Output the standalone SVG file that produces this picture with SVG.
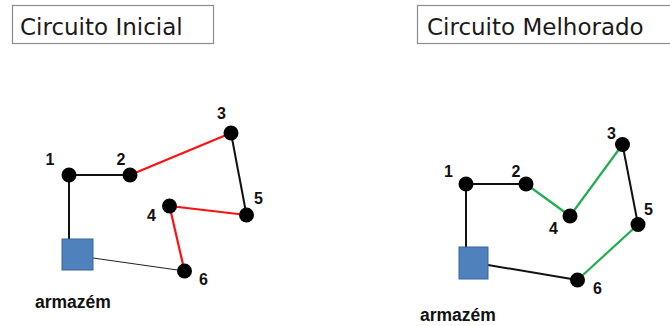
<svg xmlns="http://www.w3.org/2000/svg" width="670" height="326" viewBox="0 0 670 326">
  <style>
    .title { font-family: "DejaVu Sans", Verdana, sans-serif; font-size: 23px; fill: #1a1a1a; }
    .tbox { fill: #ffffff; stroke: #8c8c8c; stroke-width: 1.2; }
    .lbl { font-family: "Liberation Sans", Arial, sans-serif; font-weight: bold; font-size: 16px; fill: #111; text-anchor: middle; }
    .depot-lbl { font-family: "Liberation Sans", Arial, sans-serif; font-weight: bold; font-size: 17.5px; fill: #111; }
    .pt { fill: #000; }
    .depot { fill: #4f81bd; stroke: #3a6496; stroke-width: 1; }
    .blk { stroke: #111; stroke-width: 2; fill: none; }
    .thin { stroke: #222; stroke-width: 1; fill: none; }
    .red { stroke: #ff1010; stroke-width: 2.2; fill: none; }
    .grn { stroke: #1fae4f; stroke-width: 2.2; fill: none; }
  </style>
  <rect width="670" height="326" fill="#ffffff"/>

  <!-- titles -->
  <g id="title-initial">
    <rect class="tbox" x="12.5" y="5.5" width="201" height="38"/>
    <text class="title" x="20" y="35">Circuito Inicial</text>
  </g>
  <g id="title-improved">
    <rect class="tbox" x="417.5" y="5.5" width="262" height="38"/>
    <text class="title" x="427" y="35">Circuito Melhorado</text>
  </g>

  <!-- initial circuit: connectors -->
  <g id="edges-initial">
    <line class="blk" x1="69" y1="175" x2="69" y2="239"/>
    <line class="blk" x1="69" y1="175" x2="130" y2="175"/>
    <line class="red" x1="130" y1="175" x2="231" y2="133"/>
    <line class="blk" x1="231" y1="133" x2="246.5" y2="215"/>
    <line class="red" x1="246.5" y1="215" x2="169.5" y2="206"/>
    <line class="red" x1="169.5" y1="206" x2="184.5" y2="271"/>
    <line class="thin" x1="93" y1="258" x2="184.5" y2="271"/>
  </g>

  <!-- initial circuit: nodes -->
  <g id="a-depot">
    <rect class="depot" x="62" y="239" width="31" height="31"/>
    <text class="depot-lbl" x="35" y="308">armazém</text>
  </g>
  <g id="a-n1"><circle class="pt" cx="69" cy="175" r="7.5"/><text class="lbl" x="50" y="165">1</text></g>
  <g id="a-n2"><circle class="pt" cx="130" cy="175" r="7.5"/><text class="lbl" x="121" y="165">2</text></g>
  <g id="a-n3"><circle class="pt" cx="231" cy="133" r="7.5"/><text class="lbl" x="221.5" y="118.5">3</text></g>
  <g id="a-n4"><circle class="pt" cx="169.5" cy="206" r="7.5"/><text class="lbl" x="151.5" y="221">4</text></g>
  <g id="a-n5"><circle class="pt" cx="246.5" cy="215" r="7.5"/><text class="lbl" x="258.5" y="204">5</text></g>
  <g id="a-n6"><circle class="pt" cx="184.5" cy="271" r="7.5"/><text class="lbl" x="203.5" y="285">6</text></g>

  <!-- improved circuit: connectors -->
  <g id="edges-improved">
    <line class="blk" x1="466" y1="184" x2="466" y2="247"/>
    <line class="blk" x1="466" y1="184" x2="526" y2="184"/>
    <line class="grn" x1="526" y1="184" x2="570" y2="216"/>
    <line class="grn" x1="570" y1="216" x2="622.5" y2="144.5"/>
    <line class="blk" x1="622.5" y1="144.5" x2="638" y2="224.5"/>
    <line class="grn" x1="638" y1="224.5" x2="577.5" y2="280"/>
    <line class="blk" x1="488" y1="265" x2="577.5" y2="280"/>
  </g>

  <!-- improved circuit: nodes -->
  <g id="b-depot">
    <rect class="depot" x="459" y="247" width="29" height="32"/>
    <text class="depot-lbl" x="420" y="321">armazém</text>
  </g>
  <g id="b-n1"><circle class="pt" cx="466" cy="184" r="7.5"/><text class="lbl" x="448.5" y="177">1</text></g>
  <g id="b-n2"><circle class="pt" cx="526" cy="184" r="7.5"/><text class="lbl" x="516" y="177">2</text></g>
  <g id="b-n3"><circle class="pt" cx="622.5" cy="144.5" r="7.5"/><text class="lbl" x="611.5" y="139">3</text></g>
  <g id="b-n4"><circle class="pt" cx="570" cy="216" r="7.5"/><text class="lbl" x="553.5" y="234">4</text></g>
  <g id="b-n5"><circle class="pt" cx="638" cy="224.5" r="7.5"/><text class="lbl" x="648.5" y="215">5</text></g>
  <g id="b-n6"><circle class="pt" cx="577.5" cy="280" r="7.5"/><text class="lbl" x="597.5" y="294">6</text></g>
</svg>
